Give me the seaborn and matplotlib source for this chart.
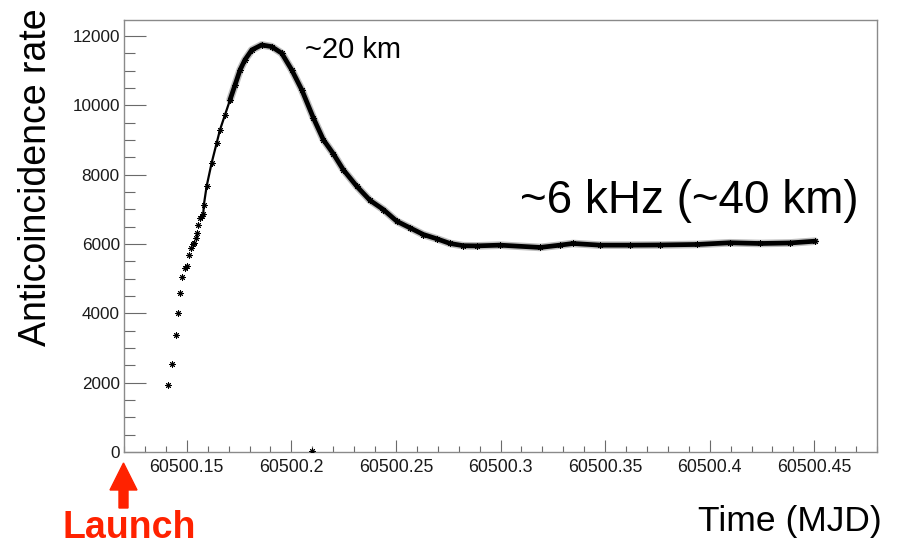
import matplotlib
matplotlib.use("Agg")
import matplotlib.pyplot as plt
import matplotlib.patches as mpatches
from matplotlib.transforms import IdentityTransform
from matplotlib.ticker import MultipleLocator
import seaborn as sns
import pandas as pd

# ---------------- data ----------------
# sparse points right after launch (individual markers)
early_t = [60500.1412, 60500.1431, 60500.1447, 60500.1458, 60500.1469, 60500.1479,
           60500.1492, 60500.1503, 60500.1511, 60500.1519, 60500.1528, 60500.1536,
           60500.1544, 60500.1549, 60500.1555, 60500.1563, 60500.1571, 60500.1579,
           60500.1582]
early_rate = [1937, 2552, 3367, 4009, 4596, 5045,
              5315, 5361, 5678, 5891, 6006, 6035,
              6178, 6322, 6561, 6754, 6820, 6878,
              7137]

# rising part, markers still partly separated
rise_t = [60500.1595, 60500.1619, 60500.1643, 60500.1659, 60500.1683, 60500.1707]
rise_rate = [7664, 8337, 8912, 9295, 9727, 10158]

# dense part of the series (markers merge into a band)
main_t = [60500.1707,
          60500.1731, 60500.1755, 60500.1778, 60500.1811, 60500.1858, 60500.1906,
          60500.1954, 60500.2002, 60500.2050, 60500.2105, 60500.2153, 60500.2201,
          60500.2248, 60500.2313, 60500.2376, 60500.2440, 60500.2504, 60500.2567,
          60500.2631, 60500.2695, 60500.2759, 60500.2822, 60500.2886, 60500.2998,
          60500.3189, 60500.3284, 60500.3347, 60500.3476, 60500.3619, 60500.3763,
          60500.3939, 60500.4097, 60500.4241, 60500.4384, 60500.4504]
main_rate = [10158,
             10590, 11022, 11309, 11597, 11741, 11692,
             11502, 11020, 10446, 9640, 9007, 8600,
             8144, 7663, 7258, 6993, 6656, 6466,
             6273, 6150, 6014, 5950, 5945, 5966,
             5900, 5966, 6014, 5966, 5966, 5971,
             5986, 6035, 6014, 6029, 6081]

# isolated outlier near zero
stray_t = [60500.2097]
stray_rate = [20]

xtick_values = [60500.15, 60500.20, 60500.25, 60500.30, 60500.35, 60500.40, 60500.45]
xtick_labels = ["60500.15", "60500.2", "60500.25", "60500.3", "60500.35", "60500.4", "60500.45"]
ytick_values = [0, 2000, 4000, 6000, 8000, 10000, 12000]
ytick_labels = ["0", "2000", "4000", "6000", "8000", "10000", "12000"]

# ---------------- style ----------------
sns.set_theme(style="white")
plt.rcParams["font.family"] = ["Liberation Sans", "DejaVu Sans"]

W, H = 902, 545
fig = plt.figure(figsize=(W / 100, H / 100), dpi=100)
ax = fig.add_axes([124 / W, (H - 452) / H, (877 - 124) / W, (452 - 20) / H])

df_rise = pd.DataFrame({"t": early_t[-4:] + rise_t, "rate": early_rate[-4:] + rise_rate})
df_main = pd.DataFrame({"t": main_t, "rate": main_rate})
df_pts = pd.DataFrame({"t": early_t + rise_t + main_t + stray_t,
                       "rate": early_rate + rise_rate + main_rate + stray_rate})

sns.lineplot(data=df_rise, x="t", y="rate", ax=ax, color="black", lw=1.6,
             sort=False, estimator=None)
sns.lineplot(data=df_main, x="t", y="rate", ax=ax, color="black", lw=3.4,
             sort=False, estimator=None)
sns.lineplot(data=df_main, x="t", y="rate", ax=ax, color="black", lw=5.5,
             alpha=0.25, sort=False, estimator=None)
sns.scatterplot(data=df_pts, x="t", y="rate", ax=ax, marker=(8, 2, 0), s=18,
                color="black", linewidth=0.7, zorder=5)

ax.set_xlim(60500.12, 60500.48)
ax.set_ylim(0, 12460)
ax.set_xticks(xtick_values)
ax.set_xticklabels(xtick_labels)
ax.set_yticks(ytick_values)
ax.set_yticklabels(ytick_labels)
ax.xaxis.set_minor_locator(MultipleLocator(0.01))
ax.yaxis.set_minor_locator(MultipleLocator(500))
ax.set_xlabel("")
ax.set_ylabel("")

for s in ax.spines.values():
    s.set_color("#8a8a8a")
    s.set_linewidth(1.0)

ax.tick_params(axis="x", which="major", direction="in", length=8.6, width=0.8,
               color="#6a6a6a", labelsize=12.8, pad=5, labelcolor="#1a1a1a",
               bottom=True, top=False)
ax.tick_params(axis="x", which="minor", direction="in", length=4.3, width=0.8,
               color="#6a6a6a", bottom=True, top=False)
ax.tick_params(axis="y", which="major", direction="in", length=15.8, width=0.8,
               color="#6a6a6a", labelsize=12.3, pad=3, labelcolor="#1a1a1a",
               left=True, right=False)
ax.tick_params(axis="y", which="minor", direction="in", length=7.9, width=0.8,
               color="#6a6a6a", left=True, right=False)

# ---------------- texts ----------------
fig.text(36 / W, (H - 177.5) / H, "Anticoincidence rate", rotation=90,
         ha="center", va="center", fontsize=27, color="black")
fig.text(882 / W, (H - 521) / H, "Time (MJD)", ha="right", va="center",
         fontsize=25.5, color="black")
fig.text(305 / W, (H - 50) / H, "~20 km", ha="left", va="center",
         fontsize=21, color="black")
fig.text(520 / W, (H - 201) / H, "~6 kHz (~40 km)", ha="left", va="center",
         fontsize=33, color="black")
red = "#FF2200"
fig.text(129 / W, (H - 538) / H, "Launch", ha="center", va="baseline",
         fontsize=27, fontweight="bold", color=red)

arrow = mpatches.FancyArrow(123.5, H - 508, 0, 45, width=9, head_width=27,
                            head_length=27, length_includes_head=True,
                            color=red, transform=IdentityTransform())
fig.add_artist(arrow)

fig.savefig("out.png", dpi=100)
